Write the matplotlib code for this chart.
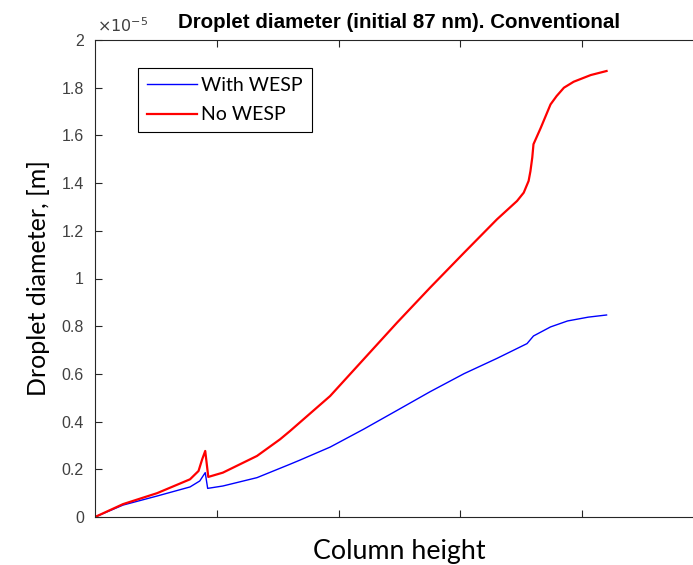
import matplotlib.pyplot as plt
import numpy as np

# column height (axis runs 0..5, unlabeled), droplet diameter in units of 1e-5 m
x_with = [0.0, 0.23, 0.51, 0.78, 0.86, 0.905, 0.925, 1.05, 1.33, 1.60, 1.68, 1.93,
          2.205, 2.48, 2.75, 3.03, 3.30, 3.547, 3.60, 3.74, 3.88, 4.05, 4.20]
y_with = [0.0, 0.05, 0.088, 0.126, 0.151, 0.186, 0.12, 0.130, 0.165, 0.221, 0.238, 0.293,
          0.368, 0.447, 0.525, 0.601, 0.665, 0.727, 0.759, 0.797, 0.822, 0.838, 0.847]

x_no = [0.0, 0.23, 0.51, 0.78, 0.85, 0.88, 0.905, 0.93, 1.05, 1.33, 1.52, 1.60,
        1.93, 2.205, 2.48, 2.75, 3.03, 3.30, 3.465, 3.52, 3.56, 3.575, 3.59, 3.60,
        3.66, 3.74, 3.79, 3.85, 3.93, 4.07, 4.20]
y_no = [0.0, 0.054, 0.10, 0.158, 0.193, 0.242, 0.277, 0.168, 0.186, 0.256, 0.326, 0.36,
        0.507, 0.661, 0.815, 0.961, 1.108, 1.248, 1.325, 1.36, 1.409, 1.45, 1.507, 1.563,
        1.632, 1.73, 1.765, 1.80, 1.825, 1.853, 1.87]

fig = plt.figure(figsize=(6.93, 5.65), dpi=100)
W, H = 693, 565
# axes run past the right edge of the picture, as in the original crop
ax = fig.add_axes([95 / W, 1 - 517 / H, (704 - 95) / W, (517 - 40) / H])

ax.plot(x_with, y_with, color='#0000ff', lw=1.0, label='With WESP')
ax.plot(x_no, y_no, color='#ff0000', lw=1.6, label='No WESP')

ax.set_xlim(0, 5)
ax.set_ylim(0, 2)
ax.set_xticks([1, 2, 3, 4])
ax.set_xticklabels([])
yt = np.round(np.arange(0, 2.01, 0.2), 1)
ax.set_yticks(yt)
ax.set_yticklabels(['%g' % v for v in yt], fontsize=11.5, color='#404040',
                   family='Liberation Sans')
ax.tick_params(direction='in', length=5, width=0.8, color='#262626',
               top=True, right=True, pad=8)
for s in ax.spines.values():
    s.set_color('#262626')
    s.set_linewidth(0.8)

ax.text(0.003, 1.01, r'$\times10^{-5}$', transform=ax.transAxes, fontsize=11.5,
        color='#404040', ha='left', va='bottom', family='Liberation Sans')
ax.set_title('Droplet diameter (initial 87 nm). Conventional', fontsize=14.8,
             fontweight='bold', family='Liberation Sans', pad=9)
ax.set_ylabel('Droplet diameter, [m]', fontsize=18, family='Lato', labelpad=8)
ax.set_xlabel('Column height', fontsize=19.3, family='Lato', labelpad=8)

leg = ax.legend(loc='upper left', bbox_to_anchor=(43 / 609, 1 - 28 / 477),
                prop={'family': 'Lato', 'size': 14}, fancybox=False,
                edgecolor='black', framealpha=1, borderpad=0.45,
                handlelength=2.6, handletextpad=0.2, labelspacing=0.65,
                borderaxespad=0)
leg.get_frame().set_linewidth(0.8)

fig.savefig('out.png', dpi=100)
